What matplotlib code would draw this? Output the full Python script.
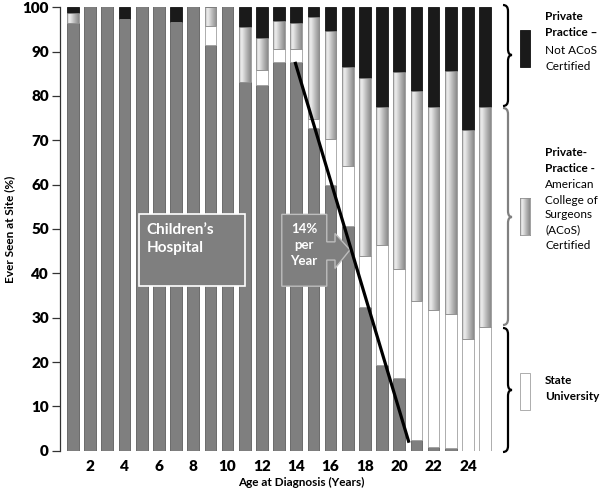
import matplotlib
matplotlib.use("Agg")
import matplotlib.pyplot as plt
import numpy as np
from matplotlib.colors import LinearSegmentedColormap
from matplotlib.patches import Rectangle, Polygon, PathPatch
from matplotlib.path import Path

plt.rcParams["font.family"] = ["Lato", "DejaVu Sans"]

AGES = list(range(1, 26))
TICKS = list(range(2, 25, 2))

# share of patients ever seen at each site (%), bottom to top of each bar
CHILDRENS = [96.5, 100, 100, 97.4, 100, 100, 96.6, 100, 91.5, 100, 83.2, 82.5, 87.7,
             87.7, 72.7, 59.9, 50.7, 32.3, 19.3, 16.5, 2.4, 0.9, 0.7, 0, 0]
STATE_UNIV = [0, 0, 0, 0, 0, 0, 0, 0, 4.3, 0, 0, 3.4, 2.8,
              2.8, 2.0, 10.5, 13.4, 11.5, 27.1, 24.5, 31.3, 30.8, 30.1, 25.1, 28.0]
PRIVATE_ACOS = [2.2, 0, 0, 0, 0, 0, 0, 0, 4.2, 0, 12.4, 7.1, 6.3,
                6.0, 23.0, 24.3, 22.5, 40.2, 31.2, 44.5, 47.5, 45.8, 54.9, 47.2, 49.6]
PRIVATE_NOT_ACOS = [1.3, 0, 0, 2.6, 0, 0, 3.4, 0, 0, 0, 4.4, 7.0, 3.2,
                    3.5, 2.3, 5.3, 13.4, 16.0, 22.4, 14.5, 18.8, 22.5, 14.3, 27.7, 22.4]

# trend line annotation (age, %)
TREND_X = [13.93, 20.57]
TREND_Y = [87.7, 1.8]

W, H = 600, 491
BAR_W = 0.68
GRAY = "#7f7f7f"
cmap = LinearSegmentedColormap.from_list(
    "acos", [(0, "#bdbdbd"), (0.22, "#eeeeee"), (0.65, "#b4b4b4"), (1, "#8a8a8a")])
grad = np.linspace(0, 1, 64).reshape(1, -1)


def fx(px):
    return px / W


def fy(py):
    return 1 - py / H


def brace(fig, x0, top, mid, bot, color):
    # curly brace "}" drawn in pixel units of the figure
    x1, x2, r = x0 + 5, x0 + 9, 6
    pts = [(x0, top), (x1, top), (x1, top + r), (x1, mid - r), (x1, mid), (x2, mid),
           (x1, mid), (x1, mid + r), (x1, bot - r), (x1, bot), (x0, bot)]
    codes = [Path.MOVETO, Path.CURVE3, Path.CURVE3, Path.LINETO, Path.CURVE3, Path.CURVE3,
             Path.CURVE3, Path.CURVE3, Path.LINETO, Path.CURVE3, Path.CURVE3]
    path = Path([(fx(a), fy(b)) for a, b in pts], codes)
    fig.add_artist(PathPatch(path, transform=fig.transFigure, facecolor="none",
                             edgecolor=color, linewidth=1.6))


fig = plt.figure(figsize=(6, 4.91), dpi=100)
ax = fig.add_axes([fx(60), fy(450.7), 434 / W, 443.4 / H])

ch = np.array(CHILDRENS)
st = np.array(STATE_UNIV)
ac = np.array(PRIVATE_ACOS)
na = np.array(PRIVATE_NOT_ACOS)

ax.bar(AGES, ch, width=BAR_W, color=GRAY, edgecolor="#5e5e5e", linewidth=0.6, zorder=2)
ax.bar(AGES, st, bottom=ch, width=BAR_W, color="white", edgecolor="#a0a0a0",
       linewidth=0.6, zorder=2)
for x, b, h in zip(AGES, ch + st, ac):
    if h > 0:
        ax.imshow(grad, extent=(x - BAR_W / 2, x + BAR_W / 2, b, b + h), cmap=cmap,
                  aspect="auto", interpolation="bilinear", zorder=2)
ax.bar(AGES, ac, bottom=ch + st, width=BAR_W, color="none", edgecolor="#909090",
       linewidth=0.6, zorder=3)
ax.bar(AGES, na, bottom=ch + st + ac, width=BAR_W, color="#1a1a1a", edgecolor="#111111",
       linewidth=0.6, zorder=2)

ax.plot(TREND_X, TREND_Y, color="black", linewidth=2.3, solid_capstyle="butt", zorder=6)

# callout boxes
ax.add_patch(Rectangle((4.86, 37.1), 6.16, 16.2, facecolor=GRAY, edgecolor="white",
                       linewidth=1.2, zorder=5))
ax.text(5.3, 49.8, "Children\u2019s", color="white", fontsize=11, fontweight="bold",
        ha="left", va="center", zorder=7)
ax.text(5.3, 45.7, "Hospital", color="white", fontsize=11, fontweight="bold",
        ha="left", va="center", zorder=7)
arrow = [(13.16, 53.3), (15.78, 53.3), (15.78, 47.1), (16.26, 47.1), (16.26, 49.0),
         (17.13, 45.3), (16.26, 41.1), (16.26, 43.0), (15.78, 43.0), (15.78, 37.1),
         (13.16, 37.1)]
ax.add_patch(Polygon(arrow, closed=True, facecolor=GRAY, edgecolor="#bdbdbd",
                     linewidth=1.0, zorder=5))
for y, s in zip([50.0, 46.4, 42.8], ["14%", "per", "Year"]):
    ax.text(14.45, y, s, color="white", fontsize=9.5, fontweight="bold",
            ha="center", va="center", zorder=7)

ax.set_xlim(0.243, 25.52)
ax.set_ylim(0, 100)
ax.set_xticks(TICKS)
ax.set_yticks(range(0, 101, 10))
for s in ["top", "right", "bottom"]:
    ax.spines[s].set_visible(False)
ax.spines["left"].set_color("#333333")
ax.spines["left"].set_linewidth(0.9)
ax.tick_params(axis="x", length=0, pad=7, labelsize=11)
ax.tick_params(axis="y", length=6, width=0.9, color="#333333", pad=2, labelsize=11)
for lab in ax.get_xticklabels() + ax.get_yticklabels():
    lab.set_fontweight("heavy")

ax.set_xlabel("Age at Diagnosis (Years)", fontsize=8.5, fontweight="bold")
ax.xaxis.set_label_coords(0.555, -0.06)
ax.set_ylabel("Ever Seen at Site (%)", fontsize=8.5, fontweight="bold")
ax.yaxis.set_label_coords(-0.103, 0.5)

# braces and legend on the right
brace(fig, 503, 5, 55, 106, "black")
brace(fig, 503, 108, 217, 325, "#808080")
brace(fig, 503, 328, 390, 452, "black")

fig.add_artist(Rectangle((fx(520), fy(67)), 10 / W, 37 / H, transform=fig.transFigure,
                         facecolor="#1a1a1a", edgecolor="#111111", linewidth=0.6))
gax = fig.add_axes([fx(520), fy(235), 10 / W, 37 / H])
gax.imshow(grad, cmap=cmap, aspect="auto", interpolation="bilinear")
gax.set_xticks([])
gax.set_yticks([])
for s in gax.spines.values():
    s.set_color("#909090")
    s.set_linewidth(0.6)
fig.add_artist(Rectangle((fx(520), fy(410)), 10 / W, 37 / H, transform=fig.transFigure,
                         facecolor="white", edgecolor="#a0a0a0", linewidth=0.6))

legend_lines = [
    (16.7, "Private", "bold"), (33, "Practice \u2013", "bold"),
    (50, "Not ACoS", "normal"), (67, "Certified", "normal"),
    (153, "Private-", "bold"), (169, "Practice -", "bold"), (184.5, "American", "normal"),
    (200, "College of", "normal"), (215, "Surgeons", "normal"), (230, "(ACoS)", "normal"),
    (245.5, "Certified", "normal"),
    (380, "State", "bold"), (397, "University", "bold"),
]
for py, s, wt in legend_lines:
    fig.text(fx(545), fy(py), s, fontsize=8.5, fontweight=wt, ha="left", va="center")

fig.savefig("out.png", dpi=100)
